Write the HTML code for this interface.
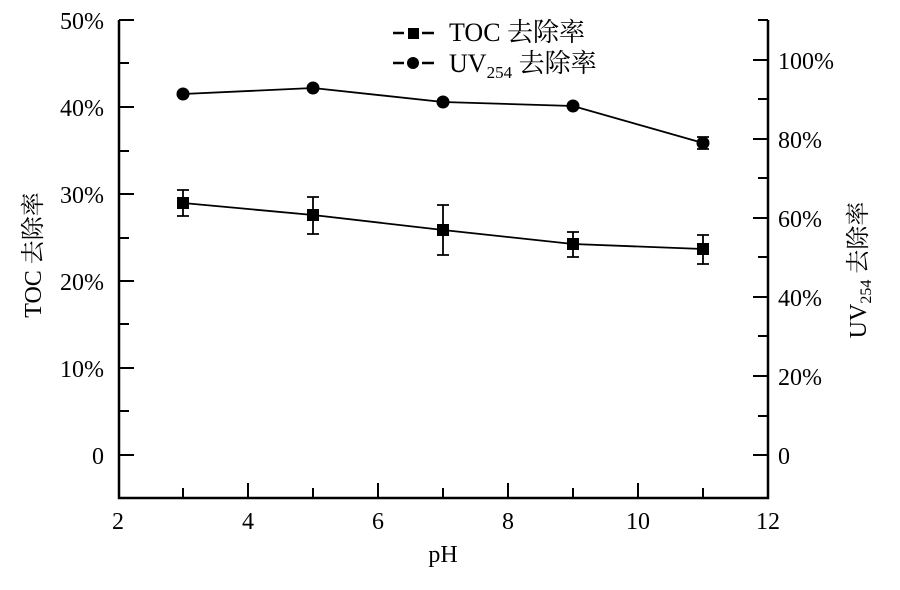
<!DOCTYPE html>
<html><head><meta charset="utf-8"><style>
html,body{margin:0;padding:0;background:#fff;}
svg text{font-family:"Liberation Serif","Noto Serif CJK SC",serif;fill:#000;}
</style></head><body>
<svg width="900" height="585" viewBox="0 0 900 585" xmlns="http://www.w3.org/2000/svg">
<g stroke="#000" stroke-width="2.5" fill="none">
<polyline points="119,20 119,498 768,498 768,20"/>
</g>
<g stroke="#000" stroke-width="2">
<line x1="119" y1="20" x2="134" y2="20"/><line x1="119" y1="63" x2="129" y2="63"/>
<line x1="119" y1="107" x2="134" y2="107"/><line x1="119" y1="151" x2="129" y2="151"/>
<line x1="119" y1="194" x2="134" y2="194"/><line x1="119" y1="238" x2="129" y2="238"/>
<line x1="119" y1="281" x2="134" y2="281"/><line x1="119" y1="324" x2="129" y2="324"/>
<line x1="119" y1="368" x2="134" y2="368"/><line x1="119" y1="411" x2="129" y2="411"/>
<line x1="119" y1="455" x2="134" y2="455"/>
<line x1="753" y1="455" x2="768" y2="455"/><line x1="758" y1="416" x2="768" y2="416"/>
<line x1="753" y1="376" x2="768" y2="376"/><line x1="758" y1="336" x2="768" y2="336"/>
<line x1="753" y1="297" x2="768" y2="297"/><line x1="758" y1="257" x2="768" y2="257"/>
<line x1="753" y1="218" x2="768" y2="218"/><line x1="758" y1="178" x2="768" y2="178"/>
<line x1="753" y1="139" x2="768" y2="139"/><line x1="758" y1="99" x2="768" y2="99"/>
<line x1="753" y1="60" x2="768" y2="60"/><line x1="758" y1="20" x2="768" y2="20"/>
<line x1="183" y1="498" x2="183" y2="488"/><line x1="248" y1="498" x2="248" y2="483"/>
<line x1="313" y1="498" x2="313" y2="488"/><line x1="378" y1="498" x2="378" y2="483"/>
<line x1="443" y1="498" x2="443" y2="488"/><line x1="508" y1="498" x2="508" y2="483"/>
<line x1="573" y1="498" x2="573" y2="488"/><line x1="638" y1="498" x2="638" y2="483"/>
<line x1="703" y1="498" x2="703" y2="488"/>
</g>
<g stroke="#000" stroke-width="1.8" fill="none">
<polyline points="183,94 313,88 443,102 573,106 703,143"/>
<polyline points="183,203 313,215 443,230 573,244 703,249"/>
<path d="M183,190V216M177,190H189M177,216H189"/>
<path d="M313,197V234M307,197H319M307,234H319"/>
<path d="M443,205V255M437,205H449M437,255H449"/>
<path d="M573,232V257M567,232H579M567,257H579"/>
<path d="M703,235V264M697,235H709M697,264H709"/>
<path d="M703,137V149M697,137H709M697,149H709"/>
</g>
<g stroke="#000" stroke-width="2.5" fill="none">
<path d="M393,33H404M422,33H434M393,63H404M422,63H434"/>
</g>
<g fill="#000">
<circle cx="183" cy="94" r="6.5"/><circle cx="313" cy="88" r="6.5"/><circle cx="443" cy="102" r="6.5"/>
<circle cx="573" cy="106" r="6.5"/><circle cx="703" cy="143" r="6.5"/>
<rect x="177" y="197" width="12" height="12"/><rect x="307" y="209" width="12" height="12"/>
<rect x="437" y="224" width="12" height="12"/><rect x="567" y="238" width="12" height="12"/>
<rect x="697" y="243" width="12" height="12"/>
<rect x="408" y="28" width="11" height="11"/><circle cx="413" cy="63" r="6"/>
</g>
<g font-size="24">
<text x="449" y="41" font-size="26">TOC 去除率</text>
<text x="449" y="72" font-size="26">UV<tspan font-size="17" dy="6">254</tspan><tspan dy="-6"> 去除率</tspan></text>
<g text-anchor="end">
<text x="104" y="29">50%</text><text x="104" y="116">40%</text><text x="104" y="203">30%</text>
<text x="104" y="290">20%</text><text x="104" y="377">10%</text><text x="104" y="464">0</text>
</g>
<g text-anchor="start">
<text x="778" y="69">100%</text><text x="778" y="148">80%</text><text x="778" y="227">60%</text>
<text x="778" y="306">40%</text><text x="778" y="385">20%</text><text x="778" y="464">0</text>
</g>
<g text-anchor="middle">
<text x="118" y="529">2</text><text x="248" y="529">4</text><text x="378" y="529">6</text>
<text x="508" y="529">8</text><text x="638" y="529">10</text><text x="768" y="529">12</text>
<text x="443" y="562">pH</text>
<text transform="translate(41,255) rotate(-90)">TOC 去除率</text>
<text transform="translate(866,270) rotate(-90)">UV<tspan font-size="16" dy="5">254</tspan><tspan dy="-5"> 去除率</tspan></text>
</g>
</g>
</svg>
</body></html>
